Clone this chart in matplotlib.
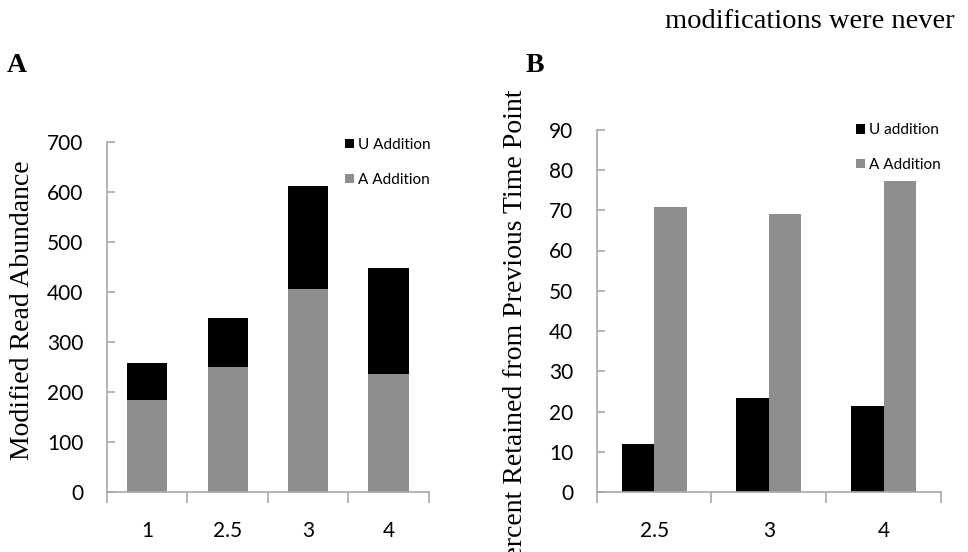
import numpy as np
import matplotlib
matplotlib.use('Agg')
import matplotlib.pyplot as plt
from matplotlib.ticker import FixedLocator, NullFormatter

# Panel A: modified read abundance (stacked)
time_a = ['1', '2.5', '3', '4']
a_add_a = [184, 251, 407, 237]
u_add_a = [75, 98, 205, 212]

# Panel B: percent retained from previous time point
time_b = ['2.5', '3', '4']
u_add_b = [12.0, 23.3, 21.5]
a_add_b = [70.7, 69.0, 77.3]

BLACK = '#000000'
GREY = '#8e8e8e'
AXIS = '#a8a8a8'

tick_font = dict(family='Lato', size=15)
serif = 'Liberation Serif'

W, H = 968, 552
fig = plt.figure(figsize=(W / 100, H / 100), dpi=100)


def style_axes(ax, ncat):
    for s in ['top', 'right']:
        ax.spines[s].set_visible(False)
    for s in ['left', 'bottom']:
        ax.spines[s].set_color(AXIS)
        ax.spines[s].set_linewidth(1.2)
    ax.set_xlim(-0.5, ncat - 0.5)
    ax.tick_params(axis='y', direction='in', length=6, color=AXIS, width=1.2, pad=17)
    ax.tick_params(axis='x', which='major', length=0, pad=21)
    ax.xaxis.set_minor_locator(FixedLocator(np.arange(-0.5, ncat, 1.0)))
    ax.xaxis.set_minor_formatter(NullFormatter())
    ax.tick_params(axis='x', which='minor', direction='out', length=8, color=AXIS, width=1.2)
    for lab in ax.get_xticklabels() + ax.get_yticklabels():
        lab.set_fontfamily(tick_font['family'])
        lab.set_fontsize(tick_font['size'])


# ---- panel A
axA = fig.add_axes([107 / W, 59.7 / H, 321.7 / W, 350.3 / H])
xa = np.arange(len(time_a))
bA1 = axA.bar(xa, a_add_a, 0.5, color=GREY, label='A Addition')
bA2 = axA.bar(xa, u_add_a, 0.5, bottom=a_add_a, color=BLACK, label='U Addition')
axA.set_ylim(0, 700)
axA.set_yticks(np.arange(0, 701, 100))
axA.set_xticks(xa)
axA.set_xticklabels(time_a)
style_axes(axA, len(time_a))
axA.legend([bA2, bA1], ['U Addition', 'A Addition'], loc='upper right',
           bbox_to_anchor=(1.05, 1.05), frameon=False, handlelength=0.55,
           handleheight=0.55, handletextpad=0.3, labelspacing=1.35,
           prop=dict(family='Lato', size=11))

# ---- panel B
axB = fig.add_axes([596.7 / W, 59.7 / H, 344.3 / W, 362.7 / H])
xb = np.arange(len(time_b))
w = 0.283
bB1 = axB.bar(xb - w / 2, u_add_b, w, color=BLACK, label='U addition')
bB2 = axB.bar(xb + w / 2, a_add_b, w, color=GREY, label='A Addition')
axB.set_ylim(0, 90)
axB.set_yticks(np.arange(0, 91, 10))
axB.set_xticks(xb)
axB.set_xticklabels(time_b)
style_axes(axB, len(time_b))
axB.legend([bB1, bB2], ['U addition', 'A Addition'], loc='upper right',
           bbox_to_anchor=(1.04, 1.055), frameon=False, handlelength=0.55,
           handleheight=0.55, handletextpad=0.3, labelspacing=1.35,
           prop=dict(family='Lato', size=11))

# labels
fig.text(23 / W, 1 - 310 / H, 'Modified Read Abundance', rotation=90,
         ha='center', va='center', family=serif, fontsize=20)
fig.text(515 / W, 1 - 332 / H, 'Percent Retained from Previous Time Point', rotation=90,
         ha='center', va='center', family=serif, fontsize=20)
fig.text(17 / W, 1 - 66 / H, 'A', ha='center', va='center', family=serif,
         fontsize=20, fontweight='bold')
fig.text(535 / W, 1 - 66 / H, 'B', ha='center', va='center', family=serif,
         fontsize=20, fontweight='bold')
fig.text(955 / W, 1 - 22 / H, 'modifications were never', ha='right', va='center',
         family=serif, fontsize=20.5)

fig.savefig('out.png', dpi=100)
